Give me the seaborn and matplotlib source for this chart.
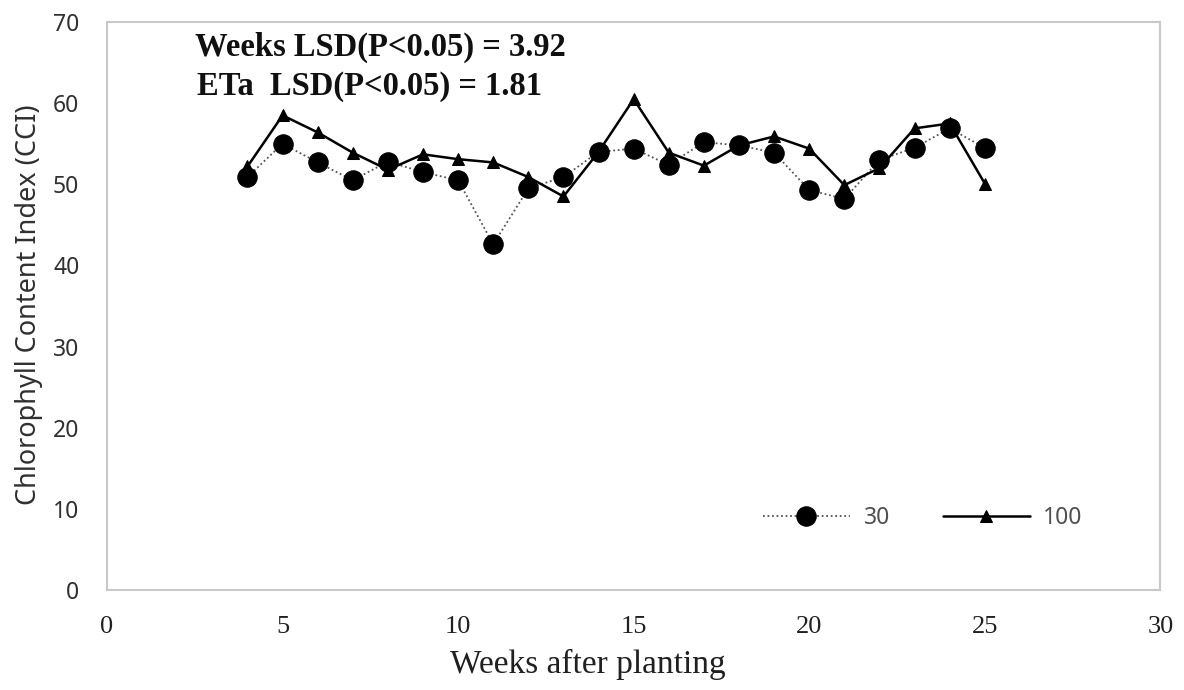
import matplotlib
matplotlib.use("Agg")
import matplotlib.pyplot as plt
import seaborn as sns
import pandas as pd

# Chlorophyll content index by week after planting, for two ETa levels
weeks = [4, 5, 6, 7, 8, 9, 10, 11, 12, 13, 14, 15, 16, 17, 18, 19, 20, 21, 22, 23, 24, 25]
cci_30 = [50.9, 55.0, 52.7, 50.5, 52.8, 51.5, 50.5, 42.6, 49.5, 50.9, 54.0, 54.4,
          52.4, 55.2, 54.8, 53.9, 49.3, 48.2, 53.0, 54.5, 56.9, 54.5]
cci_100 = [52.2, 58.5, 56.4, 53.9, 51.8, 53.7, 53.1, 52.7, 50.9, 48.5, 54.0, 60.5,
           53.9, 52.3, 54.8, 55.9, 54.4, 49.9, 52.0, 56.9, 57.5, 50.1]
series_labels = ["30", "100"]
x_ticks = [0, 5, 10, 15, 20, 25, 30]
y_ticks = [0, 10, 20, 30, 40, 50, 60, 70]
annotations = ["Weeks LSD(P<0.05) = 3.92", "ETa  LSD(P<0.05) = 1.81"]

df30 = pd.DataFrame({"week": weeks, "cci": cci_30})
df100 = pd.DataFrame({"week": weeks, "cci": cci_100})

sns.set_theme(style="white")
plt.rcParams["font.family"] = ["Noto Sans", "DejaVu Sans"]

fig = plt.figure(figsize=(11.84, 6.90), dpi=100)
ax = fig.add_axes([0.0904, 0.145, 0.8896, 0.823])

sns.lineplot(data=df30, x="week", y="cci", ax=ax, color="black", marker="o",
             markersize=14, markeredgecolor="black", linestyle=(0, (1, 1.5)),
             linewidth=1.3, label=series_labels[0])
ax.lines[-1].set_color("#555555")
ax.lines[-1].set_markerfacecolor("black")
ax.lines[-1].set_markeredgecolor("black")
sns.lineplot(data=df100, x="week", y="cci", ax=ax, color="black", marker="^",
             markersize=9, markeredgecolor="black", linestyle="-",
             linewidth=1.8, label=series_labels[1])

ax.set_xlim(0, 30)
ax.set_ylim(0, 70)
ax.set_xticks(x_ticks)
ax.set_yticks(y_ticks)
ax.tick_params(axis="both", length=0)
ax.tick_params(axis="y", pad=20)
ax.tick_params(axis="x", pad=19)
for t in ax.get_yticklabels():
    t.set_fontsize(16.5)
    t.set_color("#303030")
for t in ax.get_xticklabels():
    t.set_fontfamily("Liberation Serif")
    t.set_fontsize(19)
    t.set_color("#202020")

for s in ax.spines.values():
    s.set_visible(True)
    s.set_color("#c8c8c8")
    s.set_linewidth(1.5)

ax.set_xlabel("Weeks after planting", fontfamily="Liberation Serif", fontsize=24,
              color="#202020")
ax.xaxis.set_label_coords(0.456, -0.103)
ax.set_ylabel("Chlorophyll Content Index (CCI)", fontsize=19.5, color="#303030")
ax.yaxis.set_label_coords(-0.061, 0.503)

ax.text(0.0836, 0.955, annotations[0], transform=ax.transAxes, fontfamily="Liberation Serif",
        fontweight="bold", fontsize=23.5, color="#101010", va="center", ha="left")
ax.text(0.0855, 0.886, annotations[1], transform=ax.transAxes, fontfamily="Liberation Serif",
        fontweight="bold", fontsize=23.5, color="#101010", va="center", ha="left")

leg = ax.legend(loc="center left", bbox_to_anchor=(0.603, 0.127), ncol=2, frameon=False,
                handlelength=3.8, handletextpad=0.6, columnspacing=2.3, fontsize=16.5)
for t in leg.get_texts():
    t.set_color("#505050")

fig.savefig("out.png", dpi=100)
